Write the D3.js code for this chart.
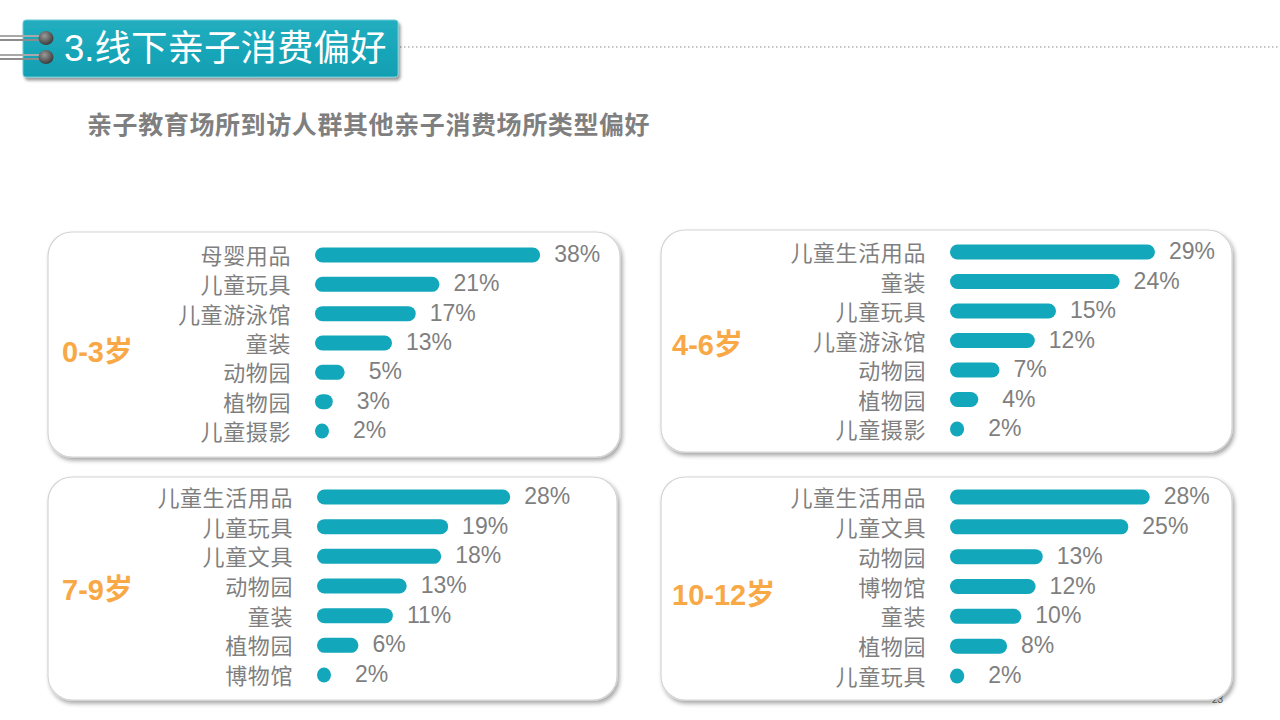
<!DOCTYPE html>
<html>
<head>
<meta charset="utf-8">
<script src="https://cdn.jsdelivr.net/npm/d3@7/dist/d3.min.js"></script>
<style>
html,body{margin:0;padding:0;background:#fff;}
svg{display:block;}
</style>
</head>
<body>
<svg id="chart" width="1280" height="720"></svg>
<script>
// ---- data ----
const pageTitle = "3.线下亲子消费偏好";
const subTitle = "亲子教育场所到访人群其他亲子消费场所类型偏好";
const groups = ["0-3岁", "4-6岁", "7-9岁", "10-12岁"];
const cats0 = ["母婴用品", "儿童玩具", "儿童游泳馆", "童装", "动物园", "植物园", "儿童摄影"];
const vals0 = [38, 21, 17, 13, 5, 3, 2];
const cats1 = ["儿童生活用品", "童装", "儿童玩具", "儿童游泳馆", "动物园", "植物园", "儿童摄影"];
const vals1 = [29, 24, 15, 12, 7, 4, 2];
const cats2 = ["儿童生活用品", "儿童玩具", "儿童文具", "动物园", "童装", "植物园", "博物馆"];
const vals2 = [28, 19, 18, 13, 11, 6, 2];
const cats3 = ["儿童生活用品", "儿童文具", "动物园", "博物馆", "童装", "植物园", "儿童玩具"];
const vals3 = [28, 25, 13, 12, 10, 8, 2];
const pageNumber = "23";

// ---- layout ----
const W = 1280, H = 720;
const teal = "#12A7BA", gray = "#7f7f7f", orange = "#F9A846";
const FONT = "'Liberation Sans', Arial, 'Noto Sans CJK SC', sans-serif";

const svg = d3.select("#chart");
const defs = svg.append("defs");

const sh = defs.append("filter").attr("id", "panelShadow")
  .attr("x", "-5%").attr("y", "-5%").attr("width", "112%").attr("height", "115%");
sh.append("feDropShadow").attr("dx", 2).attr("dy", 3).attr("stdDeviation", 2)
  .attr("flood-color", "#000").attr("flood-opacity", 0.35);

const hs = defs.append("filter").attr("id", "headShadow")
  .attr("x", "-5%").attr("y", "-10%").attr("width", "112%").attr("height", "135%");
hs.append("feDropShadow").attr("dx", 2).attr("dy", 3).attr("stdDeviation", 1.5)
  .attr("flood-color", "#000").attr("flood-opacity", 0.4);

const hg = defs.append("linearGradient").attr("id", "headGrad")
  .attr("x1", 0).attr("y1", 0).attr("x2", 0).attr("y2", 1);
hg.append("stop").attr("offset", "0%").attr("stop-color", "#22AEC0");
hg.append("stop").attr("offset", "100%").attr("stop-color", "#119FB2");

const ringGrad = defs.append("radialGradient").attr("id", "ringGrad")
  .attr("cx", "40%").attr("cy", "35%").attr("r", "65%");
ringGrad.append("stop").attr("offset", "0%").attr("stop-color", "#9a9a9a");
ringGrad.append("stop").attr("offset", "100%").attr("stop-color", "#3c3c3c");

// ---- header ----
svg.append("line").attr("x1", 400).attr("x2", W).attr("y1", 47).attr("y2", 47)
  .attr("stroke", "#8a8a8a").attr("stroke-width", 1.2).attr("stroke-dasharray", "1.5,2.5");

svg.append("rect").attr("x", 23).attr("y", 20).attr("width", 375).attr("height", 57)
  .attr("rx", 3).attr("fill", "url(#headGrad)").attr("stroke", "#6cc9d5").attr("stroke-width", 1)
  .attr("filter", "url(#headShadow)");

[38, 57].forEach(cy => {
  svg.append("line").attr("x1", 0).attr("x2", 44).attr("y1", cy - 2).attr("y2", cy - 2)
    .attr("stroke", "#a8a8a8").attr("stroke-width", 2);
  svg.append("line").attr("x1", 0).attr("x2", 44).attr("y1", cy + 2).attr("y2", cy + 2)
    .attr("stroke", "#8c8c8c").attr("stroke-width", 2);
  svg.append("ellipse").attr("cx", 46).attr("cy", cy).attr("rx", 7.5).attr("ry", 7)
    .attr("fill", "url(#ringGrad)");
});

svg.append("text").attr("x", 64).attr("y", 48).attr("dominant-baseline", "central")
  .attr("font-family", FONT).attr("font-size", 36.5).attr("fill", "#fff")
  .text(pageTitle);

svg.append("text").attr("x", 87).attr("y", 123).attr("dominant-baseline", "central")
  .attr("font-family", "'Noto Sans CJK SC', sans-serif").attr("font-weight", "bold")
  .attr("font-size", 25).attr("letter-spacing", 0.6).attr("fill", gray)
  .text(subTitle);

// page number (partly behind panel)
svg.append("text").attr("x", 1212).attr("y", 703).attr("font-family", FONT)
  .attr("font-size", 10).attr("fill", "#666").text(pageNumber);

// ---- panels ----
const panels = [
  { cats: cats0, vals: vals0, label: groups[0], x: 48, y: 232, w: 572, h: 225,
    x0: 315, yTop: 255, yBot: 431, max: 40, span: 237, labX: 62, labY: 352 },
  { cats: cats1, vals: vals1, label: groups[1], x: 661, y: 230, w: 571, h: 222,
    x0: 950, yTop: 252, yBot: 429, max: 30, span: 212, labX: 672, labY: 345 },
  { cats: cats2, vals: vals2, label: groups[2], x: 48, y: 477, w: 569, h: 223,
    x0: 317, yTop: 497, yBot: 675, max: 30, span: 207, labX: 62, labY: 590 },
  { cats: cats3, vals: vals3, label: groups[3], x: 661, y: 477, w: 571, h: 223,
    x0: 950, yTop: 497, yBot: 676, max: 30, span: 214, labX: 672, labY: 595 }
];

const barH = 15;

panels.forEach(p => {
  const g = svg.append("g");
  g.append("rect").attr("x", p.x).attr("y", p.y).attr("width", p.w).attr("height", p.h)
    .attr("rx", 24).attr("fill", "#fff").attr("stroke", "#d4d4d4").attr("stroke-width", 1.2)
    .attr("filter", "url(#panelShadow)");

  const x = d3.scaleLinear().domain([0, p.max]).range([0, p.span]);
  const y = d3.scalePoint().domain(p.cats).range([p.yTop, p.yBot]);
  const data = p.cats.map((c, i) => ({ c, v: p.vals[i] }));

  g.selectAll(".bar").data(data).enter().append("rect")
    .attr("x", p.x0)
    .attr("y", d => y(d.c) - barH / 2)
    .attr("width", d => Math.max(barH - 1, x(d.v)))
    .attr("height", barH)
    .attr("rx", barH / 2).attr("ry", barH / 2)
    .attr("fill", teal);

  g.selectAll(".cat").data(data).enter().append("text")
    .attr("x", p.x0 - 24)
    .attr("y", d => y(d.c) - 1)
    .attr("text-anchor", "end").attr("dominant-baseline", "central")
    .attr("font-family", "'Noto Sans CJK SC', sans-serif").attr("font-size", 22)
    .attr("letter-spacing", 0.6)
    .attr("fill", gray).text(d => d.c);

  g.selectAll(".val").data(data).enter().append("text")
    .attr("x", d => p.x0 + Math.max(barH - 1, x(d.v)) + (d.v <= 5 ? 24 : 14))
    .attr("y", d => y(d.c) - 1)
    .attr("dominant-baseline", "central")
    .attr("font-family", FONT).attr("font-size", 23)
    .attr("fill", gray).text(d => d.v + "%");

  g.append("text").attr("x", p.labX).attr("y", p.labY)
    .attr("dominant-baseline", "central")
    .attr("font-family", FONT).attr("font-weight", "bold").attr("font-size", 29)
    .attr("fill", orange).text(p.label);
});
</script>
</body>
</html>
